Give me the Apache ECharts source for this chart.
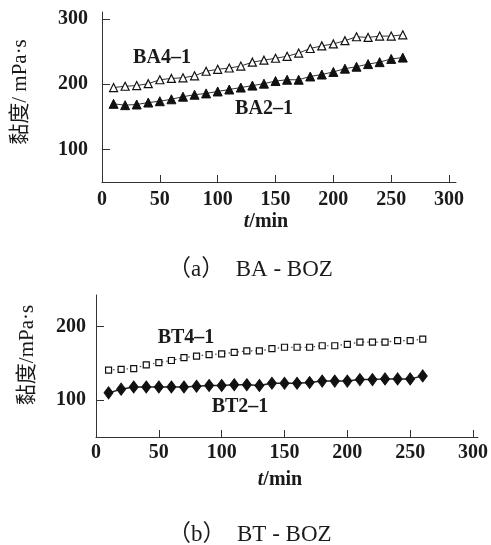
<!DOCTYPE html>
<html>
<head>
<meta charset="utf-8">
<script src="https://cdn.jsdelivr.net/npm/echarts@6/dist/echarts.min.js"></script>
<style>
  html, body { margin: 0; padding: 0; background: #fff; }
  #chart { width: 491px; height: 545px; }
</style>
</head>
<body>
<div id="chart"></div>
<script>
const times = [10, 20, 30, 40, 50, 60, 70, 80, 90, 100, 110, 120, 130, 140, 150, 160, 170, 180, 190, 200, 210, 220, 230, 240, 250, 260];

const ba41 = [195, 197, 198, 201, 207, 209, 210, 213, 220, 223, 225, 228, 234, 237, 240, 243, 248, 255, 259, 262, 267, 273, 272, 274, 274, 276];
const ba21 = [170, 168, 169, 172, 174, 177, 181, 184, 186, 189, 192, 195, 198, 201, 205, 207, 207, 212, 215, 219, 224, 227, 231, 234, 239, 241];
const bt41 = [141, 142, 143, 148, 151, 154, 158, 160, 162, 163, 165, 167, 167, 170, 172, 172, 172, 174, 174, 176, 179, 179, 179, 181, 181, 183];
const bt21 = [110, 115, 118, 118, 118, 118, 118, 119, 120, 120, 121, 121, 120, 123, 123, 123, 124, 126, 126, 126, 128, 128, 129, 129, 129, 133];

const xTicks = [0, 50, 100, 150, 200, 250, 300];
const yTicksA = [100, 200, 300];
const yTicksB = [100, 200];

const serif = '"Liberation Serif", "Times New Roman", "Noto Sans CJK SC", serif';
const ink = '#1a1a1a';

function pairs(ys) {
  return times.map(function (t, i) { return [t, ys[i]]; });
}

function xAxis(gridIndex, max, margin) {
  return {
    type: 'value', gridIndex: gridIndex, min: 0, max: max,
    axisLine: { show: true, onZero: false, lineStyle: { color: '#333', width: 1 } },
    axisTick: { show: true, inside: true, length: 7, customValues: xTicks, lineStyle: { color: '#333' } },
    axisLabel: { customValues: xTicks, margin: margin, color: ink, fontFamily: serif, fontSize: 20, fontWeight: 'bold' },
    splitLine: { show: false }
  };
}

function yAxis(gridIndex, min, max, ticks, margin) {
  return {
    type: 'value', gridIndex: gridIndex, min: min, max: max,
    axisLine: { show: true, onZero: false, lineStyle: { color: '#333', width: 1 } },
    axisTick: { show: true, inside: true, length: 8, customValues: ticks, lineStyle: { color: '#333' } },
    axisLabel: { customValues: ticks, margin: margin, color: ink, fontFamily: serif, fontSize: 20, fontWeight: 'bold' },
    splitLine: { show: false }
  };
}

function label(x, y, text, opts) {
  opts = opts || {};
  const size = opts.size || 19;
  const weight = opts.bold ? 'bold' : 'normal';
  return {
    type: 'text', x: x, y: y, rotation: opts.rotate ? Math.PI / 2 : 0,
    style: {
      text: text, fill: ink, fontFamily: serif, fontSize: size, fontWeight: weight,
      align: opts.align || 'center', verticalAlign: 'middle',
      rich: { i: { fontStyle: 'italic', fontWeight: weight, fontSize: size, fontFamily: serif, fill: ink } }
    }
  };
}

const chart = echarts.init(document.getElementById('chart'));

chart.setOption({
  animation: false,
  backgroundColor: '#fff',
  grid: [
    { left: 102, top: 12, width: 354, height: 170 },
    { left: 96, top: 295, width: 386, height: 142 }
  ],
  xAxis: [xAxis(0, 306, 8), xAxis(1, 304, 6)],
  yAxis: [yAxis(0, 50, 311, yTicksA, 14), yAxis(1, 50, 243, yTicksB, 10)],
  series: [
    {
      name: 'BA4-1', type: 'line', xAxisIndex: 0, yAxisIndex: 0, data: pairs(ba41),
      symbol: 'triangle', symbolSize: 8,
      itemStyle: { color: '#fff', borderColor: '#111', borderWidth: 1.2 },
      lineStyle: { color: '#333', width: 1 }
    },
    {
      name: 'BA2-1', type: 'line', xAxisIndex: 0, yAxisIndex: 0, data: pairs(ba21),
      symbol: 'triangle', symbolSize: 9,
      itemStyle: { color: '#111', borderColor: '#111', borderWidth: 1 },
      lineStyle: { color: '#333', width: 1 }
    },
    {
      name: 'BT4-1', type: 'line', xAxisIndex: 1, yAxisIndex: 1, data: pairs(bt41),
      symbol: 'rect', symbolSize: 6,
      itemStyle: { color: '#fff', borderColor: '#111', borderWidth: 1.2 },
      lineStyle: { color: '#444', width: 1.2, type: [1.5, 3] }
    },
    {
      name: 'BT2-1', type: 'line', xAxisIndex: 1, yAxisIndex: 1, data: pairs(bt21),
      symbol: 'diamond', symbolSize: [9, 12],
      itemStyle: { color: '#111', borderColor: '#111', borderWidth: 1 },
      lineStyle: { color: '#222', width: 1.5 }
    }
  ],
  graphic: [
    label(162, 58, 'BA4–1', { bold: true, size: 20 }),
    label(264, 109, 'BA2–1', { bold: true, size: 20 }),
    label(186, 338, 'BT4–1', { bold: true, size: 20 }),
    label(240, 407, 'BT2–1', { bold: true, size: 20 }),
    label(20, 92, '黏度/ mPa·s', { size: 21, rotate: true }),
    label(27, 355, '黏度/mPa·s', { size: 21, rotate: true }),
    label(266, 222, '{i|t}/min', { bold: true, size: 20 }),
    label(280, 480, '{i|t}/min', { bold: true, size: 20 }),
    label(168, 270, '（a）  BA - BOZ', { size: 23, align: 'left' }),
    label(168, 535, '（b）  BT - BOZ', { size: 23, align: 'left' })
  ]
});
</script>
</body>
</html>
